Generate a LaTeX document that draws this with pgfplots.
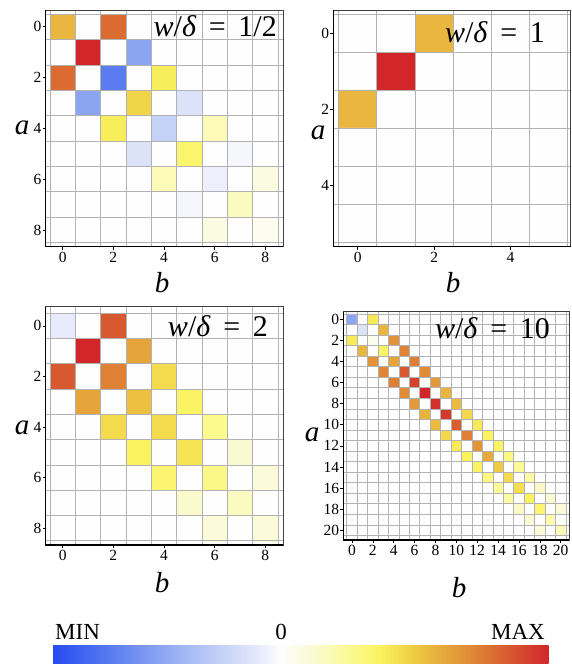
\documentclass[border=0pt]{standalone}
\usepackage{fontspec}
\setmainfont{Liberation Serif}
\usepackage{pgfplots}
\pgfplotsset{compat=1.18}
\definecolor{cA}{RGB}{38,75,240}
\definecolor{cB}{RGB}{85,120,240}
\definecolor{cC}{RGB}{140,165,242}
\definecolor{cD}{RGB}{190,205,246}
\definecolor{cE}{RGB}{225,230,250}
\definecolor{cF}{RGB}{254,254,254}
\definecolor{cG}{RGB}{250,250,210}
\definecolor{cH}{RGB}{252,250,150}
\definecolor{cI}{RGB}{250,243,95}
\definecolor{cJ}{RGB}{240,210,70}
\definecolor{cK}{RGB}{232,180,62}
\definecolor{cL}{RGB}{225,140,55}
\definecolor{cM}{RGB}{218,100,48}
\definecolor{cN}{RGB}{212,65,45}
\definecolor{cO}{RGB}{210,38,42}
\pgfplotsset{colormap={cm}{color(0pt)=(cA); color(20pt)=(cB); color(40pt)=(cC); color(60pt)=(cD); color(75pt)=(cE); color(85pt)=(cF); color(97pt)=(cG); color(110pt)=(cH); color(122pt)=(cI); color(133pt)=(cJ); color(142pt)=(cK); color(155pt)=(cL); color(167pt)=(cM); color(177pt)=(cN); color(185pt)=(cO)}}
\pgfdeclarehorizontalshading{cbar}{100bp}{color(0bp)=(cA); color(25bp)=(cA); color(30.41bp)=(cB); color(35.81bp)=(cC); color(41.22bp)=(cD); color(45.27bp)=(cE); color(47.97bp)=(cF); color(51.22bp)=(cG); color(54.73bp)=(cH); color(57.97bp)=(cI); color(60.95bp)=(cJ); color(63.38bp)=(cK); color(66.89bp)=(cL); color(70.14bp)=(cM); color(72.84bp)=(cN); color(75bp)=(cO); color(100bp)=(cO)}
\newcommand{\tfont}{\fontsize{15.5}{17}\selectfont}
\pgfplotsset{
  mat/.style={
    scale only axis, anchor=south west, y dir=reverse,
    axis on top, enlargelimits=false,
    point meta min=-0.85, point meta max=1,
    colormap name=cm,
    tick pos=left, tick align=outside,
    major tick length=3pt, minor tick length=0pt,
    tick style={black, line width=0.6pt},
    xminorgrids=true, yminorgrids=true,
    minor grid style={black!30, line width=0.7pt},
    axis line style={black!75, line width=0.6pt},
    every tick label/.append style={font=\tfont},
    yticklabel style={inner sep=1pt, font=\tfont},
    xticklabel style={inner sep=2pt, font=\tfont},
    /pgf/number format/assume math mode=true,
  },
  mp/.style={matrix plot*, mesh/cols=#1, point meta=explicit},
}
\newcommand{\ttl}[1]{\textit{w}/\textit{δ}\hspace{0.42em}=\hspace{0.42em}#1}
\begin{document}
\begin{tikzpicture}
\useasboundingbox (0,0) rectangle (571pt,664pt);
% panel 1: w/delta = 1/2
\begin{axis}[mat, name=p1, at={(45.5pt,417.3pt)}, width=237.5pt, height=236.7pt,
  xmin=-0.68, xmax=8.7, ymin=-0.66, ymax=8.66,
  xtick={0,2,...,8}, ytick={0,2,...,8},
  minor xtick={-0.5,0.5,...,8.5}, minor ytick={-0.5,0.5,...,8.5}]
\addplot[mp=9] coordinates {
(0,0)[0.56] (1,0)[0] (2,0)[0.80] (3,0)[0] (4,0)[0] (5,0)[0] (6,0)[0] (7,0)[0] (8,0)[0]
(0,1)[0] (1,1)[1.00] (2,1)[0] (3,1)[-0.45] (4,1)[0] (5,1)[0] (6,1)[0] (7,1)[0] (8,1)[0]
(0,2)[0.80] (1,2)[0] (2,2)[-0.63] (3,2)[0] (4,2)[0.39] (5,2)[0] (6,2)[0] (7,2)[0] (8,2)[0]
(0,3)[0] (1,3)[-0.45] (2,3)[0] (3,3)[0.47] (4,3)[0] (5,3)[-0.12] (6,3)[0] (7,3)[0] (8,3)[0]
(0,4)[0] (1,4)[0] (2,4)[0.39] (3,4)[0] (4,4)[-0.22] (5,4)[0] (6,4)[0.18] (7,4)[0] (8,4)[0]
(0,5)[0] (1,5)[0] (2,5)[0] (3,5)[-0.12] (4,5)[0] (5,5)[0.34] (6,5)[0] (7,5)[-0.03] (8,5)[0]
(0,6)[0] (1,6)[0] (2,6)[0] (3,6)[0] (4,6)[0.18] (5,6)[0] (6,6)[-0.06] (7,6)[0] (8,6)[0.08]
(0,7)[0] (1,7)[0] (2,7)[0] (3,7)[0] (4,7)[0] (5,7)[-0.03] (6,7)[0] (7,7)[0.16] (8,7)[0]
(0,8)[0] (1,8)[0] (2,8)[0] (3,8)[0] (4,8)[0] (5,8)[0] (6,8)[0.08] (7,8)[0] (8,8)[0.04]
};
\end{axis}
% panel 2: w/delta = 1
\begin{axis}[mat, name=p2, at={(333.3pt,417.3pt)}, width=237.2pt, height=236.7pt,
  xmin=-0.64, xmax=5.57, ymin=-0.605, ymax=5.615,
  xtick={0,2,4}, ytick={0,2,4},
  minor xtick={-0.5,0.5,...,5.5}, minor ytick={-0.5,0.5,...,5.5}]
\addplot[mp=6] coordinates {
(0,0)[0] (1,0)[0] (2,0)[0.56] (3,0)[0] (4,0)[0] (5,0)[0]
(0,1)[0] (1,1)[1.00] (2,1)[0] (3,1)[0] (4,1)[0] (5,1)[0]
(0,2)[0.56] (1,2)[0] (2,2)[0] (3,2)[0] (4,2)[0] (5,2)[0]
(0,3)[0] (1,3)[0] (2,3)[0] (3,3)[0] (4,3)[0] (5,3)[0]
(0,4)[0] (1,4)[0] (2,4)[0] (3,4)[0] (4,4)[0] (5,4)[0]
(0,5)[0] (1,5)[0] (2,5)[0] (3,5)[0] (4,5)[0] (5,5)[0]
};
\end{axis}
% panel 3: w/delta = 2
\begin{axis}[mat, name=p3, at={(45.5pt,119pt)}, width=237.5pt, height=238.3pt,
  xmin=-0.68, xmax=8.7, ymin=-0.76, ymax=8.67,
  xtick={0,2,...,8}, ytick={0,2,...,8},
  minor xtick={-0.5,0.5,...,8.5}, minor ytick={-0.5,0.5,...,8.5}]
\addplot[mp=9] coordinates {
(0,0)[-0.08] (1,0)[0] (2,0)[0.85] (3,0)[0] (4,0)[0] (5,0)[0] (6,0)[0] (7,0)[0] (8,0)[0]
(0,1)[0] (1,1)[1.00] (2,1)[0] (3,1)[0.62] (4,1)[0] (5,1)[0] (6,1)[0] (7,1)[0] (8,1)[0]
(0,2)[0.85] (1,2)[0] (2,2)[0.73] (3,2)[0] (4,2)[0.45] (5,2)[0] (6,2)[0] (7,2)[0] (8,2)[0]
(0,3)[0] (1,3)[0.62] (2,3)[0] (3,3)[0.53] (4,3)[0] (5,3)[0.36] (6,3)[0] (7,3)[0] (8,3)[0]
(0,4)[0] (1,4)[0] (2,4)[0.45] (3,4)[0] (4,4)[0.45] (5,4)[0] (6,4)[0.27] (7,4)[0] (8,4)[0]
(0,5)[0] (1,5)[0] (2,5)[0] (3,5)[0.37] (4,5)[0] (5,5)[0.42] (6,5)[0] (7,5)[0.12] (8,5)[0]
(0,6)[0] (1,6)[0] (2,6)[0] (3,6)[0] (4,6)[0.33] (5,6)[0] (6,6)[0.28] (7,6)[0] (8,6)[0.10]
(0,7)[0] (1,7)[0] (2,7)[0] (3,7)[0] (4,7)[0] (5,7)[0.13] (6,7)[0] (7,7)[0.16] (8,7)[0]
(0,8)[0] (1,8)[0] (2,8)[0] (3,8)[0] (4,8)[0] (5,8)[0] (6,8)[0.10] (7,8)[0] (8,8)[0.10]
};
\end{axis}
% panel 4: w/delta = 10
\begin{axis}[mat, name=p4, at={(343.3pt,124pt)}, width=226pt, height=228.3pt,
  xmin=-0.83, xmax=20.82, ymin=-0.72, ymax=20.93,
  xtick={0,2,...,20}, ytick={0,2,...,20},
  minor xtick={-0.5,0.5,...,20.5}, minor ytick={-0.5,0.5,...,20.5}]
\addplot[mp=21] coordinates {
(0,0)[-0.45] (1,0)[0] (2,0)[0.40] (3,0)[0] (4,0)[0] (5,0)[0] (6,0)[0] (7,0)[0] (8,0)[0] (9,0)[0] (10,0)[0] (11,0)[0] (12,0)[0] (13,0)[0] (14,0)[0] (15,0)[0] (16,0)[0] (17,0)[0] (18,0)[0] (19,0)[0] (20,0)[0]
(0,1)[0] (1,1)[-0.12] (2,1)[0] (3,1)[0.56] (4,1)[0] (5,1)[0] (6,1)[0] (7,1)[0] (8,1)[0] (9,1)[0] (10,1)[0] (11,1)[0] (12,1)[0] (13,1)[0] (14,1)[0] (15,1)[0] (16,1)[0] (17,1)[0] (18,1)[0] (19,1)[0] (20,1)[0]
(0,2)[0.40] (1,2)[0] (2,2)[0.04] (3,2)[0] (4,2)[0.68] (5,2)[0] (6,2)[0] (7,2)[0] (8,2)[0] (9,2)[0] (10,2)[0] (11,2)[0] (12,2)[0] (13,2)[0] (14,2)[0] (15,2)[0] (16,2)[0] (17,2)[0] (18,2)[0] (19,2)[0] (20,2)[0]
(0,3)[0] (1,3)[0.56] (2,3)[0] (3,3)[0.36] (4,3)[0] (5,3)[0.72] (6,3)[0] (7,3)[0] (8,3)[0] (9,3)[0] (10,3)[0] (11,3)[0] (12,3)[0] (13,3)[0] (14,3)[0] (15,3)[0] (16,3)[0] (17,3)[0] (18,3)[0] (19,3)[0] (20,3)[0]
(0,4)[0] (1,4)[0] (2,4)[0.68] (3,4)[0] (4,4)[0.62] (5,4)[0] (6,4)[0.74] (7,4)[0] (8,4)[0] (9,4)[0] (10,4)[0] (11,4)[0] (12,4)[0] (13,4)[0] (14,4)[0] (15,4)[0] (16,4)[0] (17,4)[0] (18,4)[0] (19,4)[0] (20,4)[0]
(0,5)[0] (1,5)[0] (2,5)[0] (3,5)[0.72] (4,5)[0] (5,5)[0.85] (6,5)[0] (7,5)[0.70] (8,5)[0] (9,5)[0] (10,5)[0] (11,5)[0] (12,5)[0] (13,5)[0] (14,5)[0] (15,5)[0] (16,5)[0] (17,5)[0] (18,5)[0] (19,5)[0] (20,5)[0]
(0,6)[0] (1,6)[0] (2,6)[0] (3,6)[0] (4,6)[0.74] (5,6)[0] (6,6)[0.92] (7,6)[0] (8,6)[0.66] (9,6)[0] (10,6)[0] (11,6)[0] (12,6)[0] (13,6)[0] (14,6)[0] (15,6)[0] (16,6)[0] (17,6)[0] (18,6)[0] (19,6)[0] (20,6)[0]
(0,7)[0] (1,7)[0] (2,7)[0] (3,7)[0] (4,7)[0] (5,7)[0.70] (6,7)[0] (7,7)[1.00] (8,7)[0] (9,7)[0.57] (10,7)[0] (11,7)[0] (12,7)[0] (13,7)[0] (14,7)[0] (15,7)[0] (16,7)[0] (17,7)[0] (18,7)[0] (19,7)[0] (20,7)[0]
(0,8)[0] (1,8)[0] (2,8)[0] (3,8)[0] (4,8)[0] (5,8)[0] (6,8)[0.66] (7,8)[0] (8,8)[0.97] (9,8)[0] (10,8)[0.55] (11,8)[0] (12,8)[0] (13,8)[0] (14,8)[0] (15,8)[0] (16,8)[0] (17,8)[0] (18,8)[0] (19,8)[0] (20,8)[0]
(0,9)[0] (1,9)[0] (2,9)[0] (3,9)[0] (4,9)[0] (5,9)[0] (6,9)[0] (7,9)[0.57] (8,9)[0] (9,9)[0.94] (10,9)[0] (11,9)[0.46] (12,9)[0] (13,9)[0] (14,9)[0] (15,9)[0] (16,9)[0] (17,9)[0] (18,9)[0] (19,9)[0] (20,9)[0]
(0,10)[0] (1,10)[0] (2,10)[0] (3,10)[0] (4,10)[0] (5,10)[0] (6,10)[0] (7,10)[0] (8,10)[0.55] (9,10)[0] (10,10)[0.84] (11,10)[0] (12,10)[0.40] (13,10)[0] (14,10)[0] (15,10)[0] (16,10)[0] (17,10)[0] (18,10)[0] (19,10)[0] (20,10)[0]
(0,11)[0] (1,11)[0] (2,11)[0] (3,11)[0] (4,11)[0] (5,11)[0] (6,11)[0] (7,11)[0] (8,11)[0] (9,11)[0.46] (10,11)[0] (11,11)[0.74] (12,11)[0] (13,11)[0.37] (14,11)[0] (15,11)[0] (16,11)[0] (17,11)[0] (18,11)[0] (19,11)[0] (20,11)[0]
(0,12)[0] (1,12)[0] (2,12)[0] (3,12)[0] (4,12)[0] (5,12)[0] (6,12)[0] (7,12)[0] (8,12)[0] (9,12)[0] (10,12)[0.40] (11,12)[0] (12,12)[0.67] (13,12)[0] (14,12)[0.36] (15,12)[0] (16,12)[0] (17,12)[0] (18,12)[0] (19,12)[0] (20,12)[0]
(0,13)[0] (1,13)[0] (2,13)[0] (3,13)[0] (4,13)[0] (5,13)[0] (6,13)[0] (7,13)[0] (8,13)[0] (9,13)[0] (10,13)[0] (11,13)[0.37] (12,13)[0] (13,13)[0.60] (14,13)[0] (15,13)[0.30] (16,13)[0] (17,13)[0] (18,13)[0] (19,13)[0] (20,13)[0]
(0,14)[0] (1,14)[0] (2,14)[0] (3,14)[0] (4,14)[0] (5,14)[0] (6,14)[0] (7,14)[0] (8,14)[0] (9,14)[0] (10,14)[0] (11,14)[0] (12,14)[0.36] (13,14)[0] (14,14)[0.50] (15,14)[0] (16,14)[0.25] (17,14)[0] (18,14)[0] (19,14)[0] (20,14)[0]
(0,15)[0] (1,15)[0] (2,15)[0] (3,15)[0] (4,15)[0] (5,15)[0] (6,15)[0] (7,15)[0] (8,15)[0] (9,15)[0] (10,15)[0] (11,15)[0] (12,15)[0] (13,15)[0.30] (14,15)[0] (15,15)[0.45] (16,15)[0] (17,15)[0.22] (18,15)[0] (19,15)[0] (20,15)[0]
(0,16)[0] (1,16)[0] (2,16)[0] (3,16)[0] (4,16)[0] (5,16)[0] (6,16)[0] (7,16)[0] (8,16)[0] (9,16)[0] (10,16)[0] (11,16)[0] (12,16)[0] (13,16)[0] (14,16)[0.25] (15,16)[0] (16,16)[0.44] (17,16)[0] (18,16)[0.14] (19,16)[0] (20,16)[0]
(0,17)[0] (1,17)[0] (2,17)[0] (3,17)[0] (4,17)[0] (5,17)[0] (6,17)[0] (7,17)[0] (8,17)[0] (9,17)[0] (10,17)[0] (11,17)[0] (12,17)[0] (13,17)[0] (14,17)[0] (15,17)[0.22] (16,17)[0] (17,17)[0.37] (18,17)[0] (19,17)[0.12] (20,17)[0]
(0,18)[0] (1,18)[0] (2,18)[0] (3,18)[0] (4,18)[0] (5,18)[0] (6,18)[0] (7,18)[0] (8,18)[0] (9,18)[0] (10,18)[0] (11,18)[0] (12,18)[0] (13,18)[0] (14,18)[0] (15,18)[0] (16,18)[0.14] (17,18)[0] (18,18)[0.33] (19,18)[0] (20,18)[0.10]
(0,19)[0] (1,19)[0] (2,19)[0] (3,19)[0] (4,19)[0] (5,19)[0] (6,19)[0] (7,19)[0] (8,19)[0] (9,19)[0] (10,19)[0] (11,19)[0] (12,19)[0] (13,19)[0] (14,19)[0] (15,19)[0] (16,19)[0] (17,19)[0.12] (18,19)[0] (19,19)[0.20] (20,19)[0]
(0,20)[0] (1,20)[0] (2,20)[0] (3,20)[0] (4,20)[0] (5,20)[0] (6,20)[0] (7,20)[0] (8,20)[0] (9,20)[0] (10,20)[0] (11,20)[0] (12,20)[0] (13,20)[0] (14,20)[0] (15,20)[0] (16,20)[0] (17,20)[0] (18,20)[0.10] (19,20)[0] (20,20)[0.18]
};
\end{axis}
% heavier left and bottom frame lines
\foreach \p in {p1,p2,p3,p4}{
  \draw[black, line width=1.3pt] (\p.north west) -- (\p.south west) -- (\p.south east);
}
% titles
\tikzset{ttlst/.style={font=\fontsize{30}{30}\selectfont, anchor=base east, inner sep=0pt}}
\node[ttlst] at (277pt,627pt) {\ttl{1/2}};
\node[ttlst] at (545pt,621pt) {\ttl{1}};
\node[ttlst] at (268pt,327pt) {\ttl{2}};
\node[ttlst] at (550pt,325pt) {\ttl{10}};
% axis labels
\tikzset{lab/.style={font=\fontsize{29}{29}\selectfont\itshape, anchor=base, inner sep=0pt}}
\node[lab] at (22pt,529pt) {a};
\node[lab] at (162pt,371pt) {b};
\node[lab] at (318pt,524pt) {a};
\node[lab] at (453pt,371pt) {b};
\node[lab] at (22pt,229pt) {a};
\node[lab] at (162pt,71pt) {b};
\node[lab] at (312pt,222pt) {a};
\node[lab] at (459pt,66pt) {b};
% colour bar
\shade[shading=cbar] (53pt,0pt) rectangle (548.5pt,18pt);
\node[font=\fontsize{23}{23}\selectfont, anchor=base west, inner sep=0pt] at (55pt,24pt) {MIN};
\node[font=\fontsize{23}{23}\selectfont, anchor=base, inner sep=0pt] at (281pt,24pt) {0};
\node[font=\fontsize{23}{23}\selectfont, anchor=base east, inner sep=0pt] at (545pt,24pt) {MAX};
\end{tikzpicture}
\end{document}
